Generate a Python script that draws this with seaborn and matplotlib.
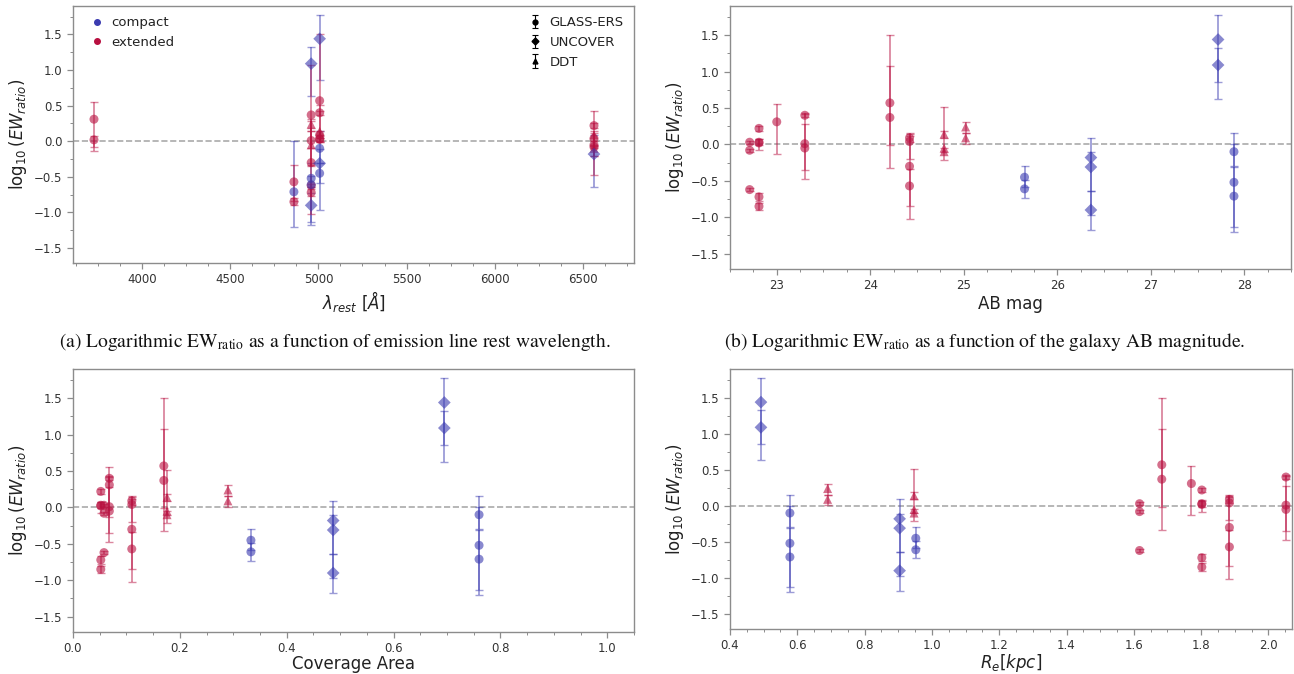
import numpy as np
import pandas as pd
import matplotlib
matplotlib.use("Agg")
import matplotlib.pyplot as plt
from matplotlib.ticker import AutoMinorLocator, MultipleLocator
from matplotlib.lines import Line2D
import seaborn as sns

# ---- galaxy properties -------------------------------------------------
gal_ab_mag = [22.71, 22.81, 23.00, 23.30, 24.21, 24.42, 24.79, 25.02,
              25.65, 26.36, 27.72, 27.89]
gal_coverage = [0.058, 0.052, 0.068, 0.068, 0.170, 0.110, 0.176, 0.290,
                0.333, 0.487, 0.695, 0.760]
gal_re_kpc = [1.617, 1.802, 1.771, 2.052, 1.683, 1.884, 0.947, 0.690,
              0.952, 0.904, 0.492, 0.578]
gal_morph = ["extended"] * 8 + ["compact"] * 4
gal_survey = ["GLASS-ERS"] * 6 + ["DDT"] * 2 + ["GLASS-ERS", "UNCOVER", "UNCOVER", "GLASS-ERS"]

# ---- emission-line measurements (one entry per line) ------------------
line_gal = [0, 0, 0,
            1, 1, 1, 1, 1,
            2,
            3, 3, 3,
            4, 4,
            5, 5, 5, 5,
            6, 6, 6,
            7, 7,
            8, 8,
            9, 9, 9,
            10, 10,
            11, 11, 11]
line_wave = [5007, 6563, 4959,
             6563, 3727, 5007, 4959, 4861,
             3727,
             5007, 4959, 6563,
             5007, 4959,
             5007, 6563, 4959, 4861,
             5007, 4959, 6563,
             4959, 6563,
             5007, 4959,
             6563, 5007, 4959,
             5007, 4959,
             5007, 4959, 4861]
log_ew = [0.03, -0.08, -0.62,
          0.22, 0.02, 0.03, -0.72, -0.85,
          0.31,
          0.40, 0.01, -0.05,
          0.57, 0.37,
          0.09, 0.04, -0.30, -0.57,
          0.14, -0.05, -0.10,
          0.24, 0.09,
          -0.45, -0.61,
          -0.18, -0.31, -0.90,
          1.44, 1.09,
          -0.10, -0.52, -0.71]
err_lo = [0.02, 0.02, 0.02,
          0.03, 0.10, 0.04, 0.05, 0.05,
          0.44,
          0.03, 0.36, 0.42,
          0.58, 0.70,
          0.05, 0.24, 0.72, 0.27,
          0.05, 0.05, 0.11,
          0.09, 0.08,
          0.13, 0.12,
          0.46, 0.66, 0.28,
          0.58, 0.46,
          0.20, 0.61, 0.49]
err_hi = [0.02, 0.02, 0.02,
          0.03, 0.06, 0.04, 0.05, 0.05,
          0.24,
          0.03, 0.27, 0.47,
          0.93, 0.70,
          0.05, 0.08, 0.45, 0.23,
          0.37, 0.24, 0.05,
          0.07, 0.06,
          0.15, 0.12,
          0.27, 0.20, 0.26,
          0.34, 0.24,
          0.25, 0.21, 0.71]

galaxies = pd.DataFrame({
    "ab_mag": gal_ab_mag, "coverage": gal_coverage, "re_kpc": gal_re_kpc,
    "morph": gal_morph, "survey": gal_survey,
})
lines = pd.DataFrame({
    "gal": line_gal, "wave": line_wave, "log_ew": log_ew,
    "err_lo": err_lo, "err_hi": err_hi,
})
df = lines.join(galaxies, on="gal")

# ---- styling ------------------------------------------------------------
sns.set_style("ticks", {
    "axes.edgecolor": "#8c8c8c",
    "xtick.color": "#8c8c8c",
    "ytick.color": "#8c8c8c",
})
plt.rcParams["font.family"] = ["DejaVu Sans"]
plt.rcParams["xtick.labelcolor"] = "#333333"
plt.rcParams["ytick.labelcolor"] = "#333333"
plt.rcParams["axes.linewidth"] = 1.0

palette = {"compact": "#3b3bb0", "extended": "#b81040"}
markers = {"GLASS-ERS": "o", "UNCOVER": "D", "DDT": "^"}

fig = plt.figure(figsize=(12.94, 6.74), dpi=100)
W, H = 1294, 674


def axes_px(left, top, right, bottom):
    return fig.add_axes([left / W, 1 - bottom / H, (right - left) / W, (bottom - top) / H])


ax_a = axes_px(73, 6, 634, 263)
ax_b = axes_px(730, 6, 1291, 269)
ax_c = axes_px(73, 369, 634, 632)
ax_d = axes_px(730, 369, 1292, 629)

panels = [
    (ax_a, "wave", r"$\lambda_{rest}\ [\AA]$", (3608, 6790), 500, 2),
    (ax_b, "ab_mag", "AB mag", (22.5, 28.5), 1, 2),
    (ax_c, "coverage", "Coverage Area", (0.0, 1.05), 0.2, 0),
    (ax_d, "re_kpc", r"$R_e[kpc]$", (0.4, 2.07), 0.2, 0),
]

for ax, xcol, xlabel, xlim, xmajor, xpad in panels:
    ax.axhline(0, ls="--", color="#aaaaaa", lw=1.2, zorder=0)
    for morph, grp in df.groupby("morph"):
        ax.errorbar(grp[xcol], grp["log_ew"], yerr=[grp["err_lo"], grp["err_hi"]],
                    fmt="none", ecolor=palette[morph], alpha=0.5,
                    elinewidth=1.3, capsize=3, capthick=1.0, zorder=2)
    sns.scatterplot(data=df, x=xcol, y="log_ew", hue="morph", style="survey",
                    palette=palette, markers=markers, s=42, alpha=0.6,
                    edgecolor="none", linewidth=0, legend=False, ax=ax, zorder=3)
    ax.set_xlim(*xlim)
    ax.set_ylim(-1.71, 1.90)
    ax.xaxis.set_major_locator(MultipleLocator(xmajor))
    ax.yaxis.set_major_locator(MultipleLocator(0.5))
    ax.xaxis.set_minor_locator(AutoMinorLocator(4))
    ax.yaxis.set_minor_locator(AutoMinorLocator(2))
    ax.tick_params(which="major", length=4, width=0.9, labelsize=8.5)
    ax.tick_params(which="minor", length=2, width=0.7)
    ax.set_xlabel(xlabel, fontsize=12, color="#222222", labelpad=xpad)
    ax.set_ylabel(r"$\log_{10}(EW_{ratio})$", fontsize=12, color="#222222", labelpad=4)
    for s in ax.spines.values():
        s.set_visible(True)

legend_kw = dict(frameon=False, fontsize=9.5, handletextpad=0.5, handlelength=1.2,
                 borderaxespad=0.0, borderpad=0.4, labelcolor="#222222", loc="upper left")

# legend: morphology
morph_handles = [Line2D([], [], ls="none", marker="o", ms=4, color=palette[m], label=m)
                 for m in ["compact", "extended"]]
leg1 = ax_a.legend(handles=morph_handles, bbox_to_anchor=(0.019, 0.98), **legend_kw)
ax_a.add_artist(leg1)

# legend: survey
survey_handles = []
for name in ["GLASS-ERS", "UNCOVER", "DDT"]:
    h = ax_a.errorbar([np.nan], [np.nan], yerr=[[0.1]], fmt=markers[name], color="black",
                      ms=3.5, elinewidth=0.8, capsize=2, capthick=0.8, label=name)
    survey_handles.append(h)
ax_a.legend(handles=survey_handles, bbox_to_anchor=(0.800, 0.98), **legend_kw)

# sub-figure captions
cap_kw = dict(fontsize=14, family="STIXGeneral", math_fontfamily="stix",
              ha="center", va="center", color="#111111")
fig.text(335 / W, 1 - 342 / H,
         r"(a) Logarithmic EW$_{\mathrm{ratio}}$ as a function of emission line rest wavelength.",
         **cap_kw)
fig.text(985 / W, 1 - 342 / H,
         r"(b) Logarithmic EW$_{\mathrm{ratio}}$ as a function of the galaxy AB magnitude.",
         **cap_kw)

fig.savefig("out.png", dpi=100)
